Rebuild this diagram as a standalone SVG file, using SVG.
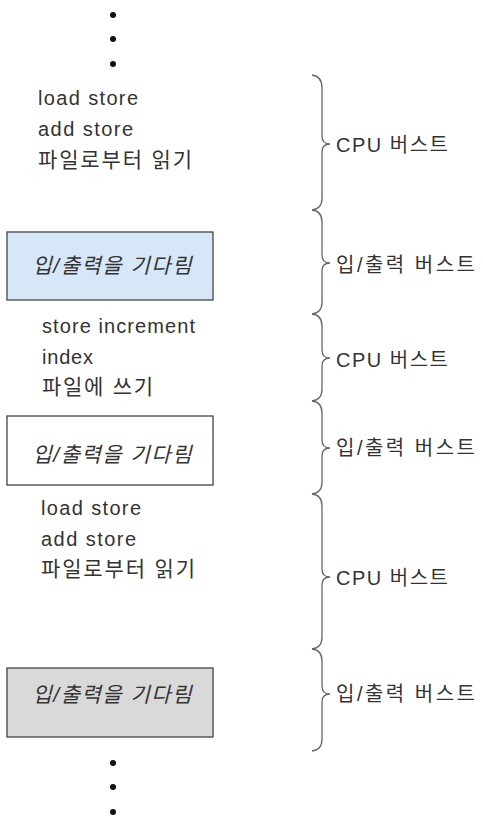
<svg xmlns="http://www.w3.org/2000/svg" width="483" height="823" viewBox="0 0 483 823">
  <style>
    .code { font-family: "Liberation Sans", "Noto Sans CJK KR", sans-serif; font-size: 20px; fill: #333; }
    .han { font-size: 21px; }
    .wait { font-family: "Liberation Sans", "Noto Sans CJK KR", sans-serif; font-size: 21px; font-style: italic; fill: #333; text-anchor: middle; }
    .label { font-family: "Liberation Sans", "Noto Sans CJK KR", sans-serif; font-size: 20px; fill: #333; }
    .box { stroke: #444; stroke-width: 1.3; }
    .brace { fill: none; stroke: #666; stroke-width: 1.3; }
    .dot { fill: #111; }
  </style>
  <rect width="483" height="823" fill="#fff"/>

  <!-- continuation dots above -->
  <g id="dots-top">
    <circle class="dot" cx="113" cy="15" r="3"/>
    <circle class="dot" cx="113" cy="39" r="3"/>
    <circle class="dot" cx="113" cy="64" r="3"/>
  </g>

  <g id="cpu1">
    <text class="code" x="38" y="105" textLength="100" lengthAdjust="spacing">load store</text>
    <text class="code" x="38" y="136" textLength="95" lengthAdjust="spacing">add store</text>
    <text class="code han" x="38" y="167" textLength="154" lengthAdjust="spacing">파일로부터 읽기</text>
  </g>

  <g id="io1">
    <rect class="box" x="7" y="232" width="206" height="68" fill="#d6e8f7"/>
    <text class="wait" x="112" y="273" textLength="159" lengthAdjust="spacing">입/출력을 기다림</text>
  </g>

  <g id="cpu2">
    <text class="code" x="42" y="333" textLength="153" lengthAdjust="spacing">store increment</text>
    <text class="code" x="42" y="364" textLength="51" lengthAdjust="spacing">index</text>
    <text class="code han" x="42" y="394" textLength="111" lengthAdjust="spacing">파일에 쓰기</text>
  </g>

  <g id="io2">
    <rect class="box" x="7" y="416" width="206" height="69" fill="#fff"/>
    <text class="wait" x="112" y="462" textLength="159" lengthAdjust="spacing">입/출력을 기다림</text>
  </g>

  <g id="cpu3">
    <text class="code" x="41" y="515" textLength="100" lengthAdjust="spacing">load store</text>
    <text class="code" x="41" y="546" textLength="95" lengthAdjust="spacing">add store</text>
    <text class="code han" x="41" y="576" textLength="154" lengthAdjust="spacing">파일로부터 읽기</text>
  </g>

  <g id="io3">
    <rect class="box" x="7" y="668" width="206" height="69" fill="#d9d9d9"/>
    <text class="wait" x="112" y="702" textLength="159" lengthAdjust="spacing">입/출력을 기다림</text>
  </g>

  <!-- continuation dots below -->
  <g id="dots-bottom">
    <circle class="dot" cx="113" cy="763" r="3"/>
    <circle class="dot" cx="113" cy="787" r="3"/>
    <circle class="dot" cx="113" cy="812" r="3"/>
  </g>

  <!-- braces grouping each burst -->
  <g id="braces">
    <path class="brace" d="M312,75 Q322,76 322,88 L322,136 Q322,144 330,144 Q322,144 322,152 L322,198 Q322,209 312,210"/>
    <path class="brace" d="M312,210 Q322,211 322,222 L322,255 Q322,263 330,263 Q322,263 322,271 L322,302 Q322,313 312,314"/>
    <path class="brace" d="M312,314 Q322,315 322,326 L322,350 Q322,358 330,358 Q322,358 322,366 L322,389 Q322,400 312,401"/>
    <path class="brace" d="M312,401 Q322,402 322,413 L322,440 Q322,448 330,448 Q322,448 322,456 L322,482 Q322,493 312,494"/>
    <path class="brace" d="M312,494 Q322,495 322,506 L322,569 Q322,577 330,577 Q322,577 322,585 L322,637 Q322,648 312,649"/>
    <path class="brace" d="M312,649 Q322,650 322,661 L322,686 Q322,694 330,694 Q322,694 322,702 L322,739 Q322,750 312,751"/>
  </g>

  <g id="labels">
    <text class="label" x="336" y="152" textLength="112" lengthAdjust="spacing">CPU 버스트</text>
    <text class="label" x="336" y="272" textLength="139" lengthAdjust="spacing">입/출력 버스트</text>
    <text class="label" x="336" y="367" textLength="112" lengthAdjust="spacing">CPU 버스트</text>
    <text class="label" x="336" y="455" textLength="139" lengthAdjust="spacing">입/출력 버스트</text>
    <text class="label" x="336" y="585" textLength="112" lengthAdjust="spacing">CPU 버스트</text>
    <text class="label" x="336" y="701" textLength="139" lengthAdjust="spacing">입/출력 버스트</text>
  </g>
</svg>
